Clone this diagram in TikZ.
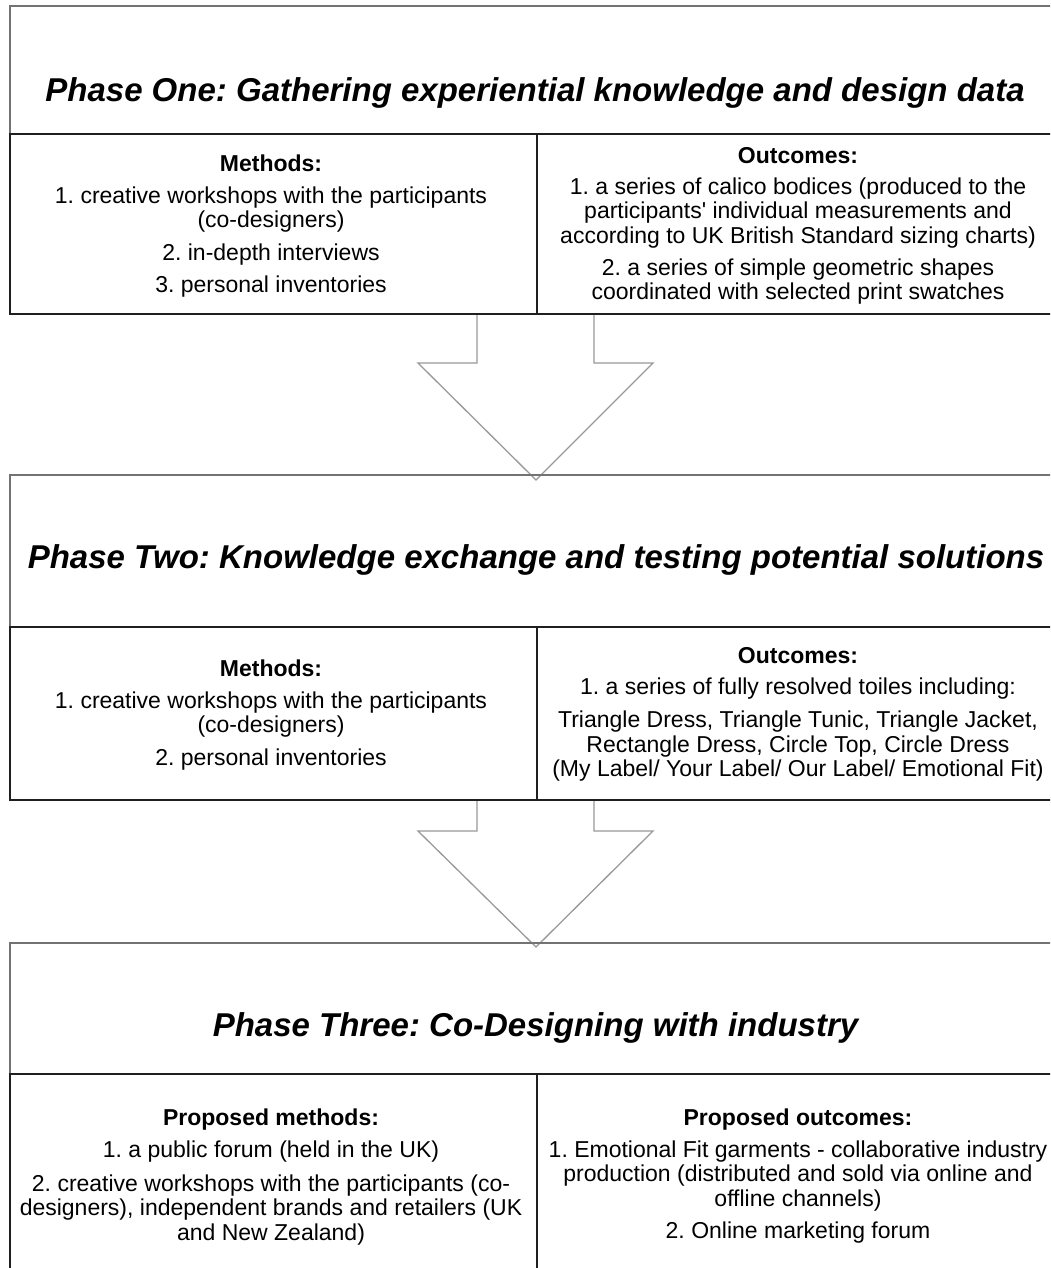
\documentclass[tikz,border=0pt]{standalone}
\usepackage{fontspec}
\setmainfont{Liberation Sans}[Ligatures=TeXOff]
\begin{document}
\frenchspacing
\begin{tikzpicture}[x=1pt,y=-1pt,
  titlebox/.style={draw=black!55, line width=1.4pt},
  gridline/.style={draw=black!88, line width=2pt},
  blockarrow/.style={draw=black!40, line width=1.3pt, fill=white, line join=miter},
  celltext/.style={align=center, inner sep=0pt, font=\fontsize{23}{24.5}\selectfont},
  titletext/.style={inner sep=0pt, font=\fontsize{33}{36}\selectfont\bfseries\itshape}]
\useasboundingbox (0,0) rectangle (1050,1268);
\clip (0,0) rectangle (1050,1268);
\fill[white] (0,0) rectangle (1050,1268);

% ---------- Phase one ----------
\draw[titlebox] (1060,6) -- (10,6) -- (10,134);
\node[titletext] (t1) at (535,93) {Phase One: Gathering experiential knowledge and design data};
\draw[gridline] (1060,134) -- (10,134) -- (10,314) -- (1060,314);
\draw[gridline] (537,134) -- (537,314);
\node[celltext] (m1) at (271,226) {\textbf{Methods:}\\[7.5pt]
  1. creative workshops with the participants\\
  (co-designers)\\[8pt]
  2. in-depth interviews\\[8pt]
  3. personal inventories};
\node[celltext] (o1) at (798,226) {\textbf{Outcomes:}\\[6.5pt]
  1. a series of calico bodices (produced to the\\
  participants' individual measurements and\\
  according to UK British Standard sizing charts)\\[7.5pt]
  2. a series of simple geometric shapes\\
  coordinated with selected print swatches};

% ---------- Arrow 1 ----------
\draw[blockarrow] (477,315) -- (477,363) -- (418,363) -- (536,480) -- (653,363) -- (594,363) -- (594,315);

% ---------- Phase two ----------
\draw[titlebox] (1060,475) -- (10,475) -- (10,627);
\node[titletext] (t2) at (536,560) {Phase Two: Knowledge exchange and testing potential solutions};
\draw[gridline] (1060,627) -- (10,627) -- (10,800) -- (1060,800);
\draw[gridline] (537,627) -- (537,800);
\node[celltext] (m2) at (271,715) {\textbf{Methods:}\\[7.5pt]
  1. creative workshops with the participants\\
  (co-designers)\\[8pt]
  2. personal inventories};
\node[celltext] (o2) at (798,714.5) {\textbf{Outcomes:}\\[7pt]
  1. a series of fully resolved toiles including:\\[8.5pt]
  Triangle Dress, Triangle Tunic, Triangle Jacket,\\
  Rectangle Dress, Circle Top, Circle Dress\\
  (My Label/ Your Label/ Our Label/ Emotional Fit)};

% ---------- Arrow 2 ----------
\draw[blockarrow] (477,801) -- (477,831) -- (418,831) -- (536,947) -- (653,831) -- (594,831) -- (594,801);

% ---------- Phase three ----------
\draw[titlebox] (1060,943) -- (10,943) -- (10,1074);
\node[titletext] (t3) at (535.5,1028) {Phase Three: Co-Designing with industry};
\draw[gridline] (1060,1074) -- (10,1074) -- (10,1280);
\draw[gridline] (537,1074) -- (537,1280);
\node[celltext] (m3) at (271,1177) {\textbf{Proposed methods:}\\[7.5pt]
  1. a public forum (held in the UK)\\[9pt]
  2. creative workshops with the participants (co-\\
  designers), independent brands and retailers (UK\\
  and New Zealand)};
\node[celltext] (o3) at (798,1176) {\textbf{Proposed outcomes:}\\[7.5pt]
  1. Emotional Fit garments - collaborative industry\\
  production (distributed and sold via online and\\
  offline channels)\\[7.5pt]
  2. Online marketing forum};
\end{tikzpicture}
\end{document}
